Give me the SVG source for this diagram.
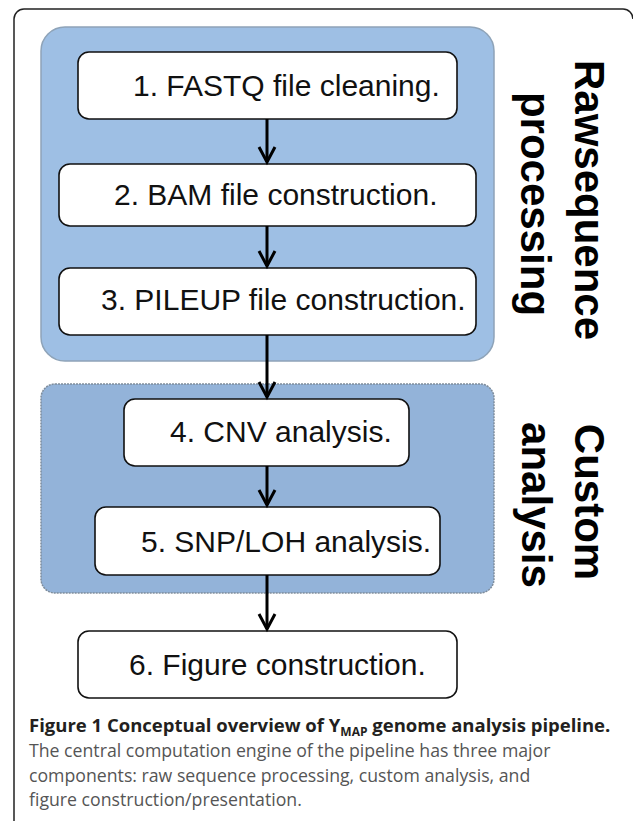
<svg xmlns="http://www.w3.org/2000/svg" width="633" height="821" viewBox="0 0 633 821">
<style>
.node rect{fill:#fff;stroke:#111;stroke-width:1.6}
.lbl{font-family:"Liberation Sans",Arial,sans-serif;font-size:30px;fill:#111}
.side{font-family:"Liberation Sans",Arial,sans-serif;font-size:42px;font-weight:bold;fill:#000;text-anchor:middle}
.conn line{stroke:#000;stroke-width:3}
.conn path{fill:none;stroke:#000;stroke-width:3;stroke-linejoin:miter}
.cap{font-family:"Open Sans","Noto Sans",sans-serif;font-size:17.7px;fill:#555}
.ttl{font-family:"Open Sans","Noto Sans",sans-serif;font-size:18.5px;font-weight:bold;fill:#231f20}
</style>
<rect width="633" height="821" fill="#fff"/>
<path d="M14,821 V19 A10,10 0 0 1 24,9 H623 A10,10 0 0 1 633,19" fill="none" stroke="#222" stroke-width="1.5"/>
<g id="group-raw">
<rect x="41" y="27" width="453" height="334" rx="24" fill="#9ebfe4" stroke="#8ea3b8" stroke-width="1.5"/>
<text class="side" transform="translate(575,200) rotate(90)">Rawsequence</text>
<text class="side" transform="translate(521,204) rotate(90)">processing</text>
</g>
<g id="group-custom">
<rect x="41" y="384" width="453" height="209" rx="14" fill="#93b3d9" stroke="#7f8d9c" stroke-width="1.5" stroke-dasharray="2,1"/>
<text class="side" transform="translate(575,502) rotate(90)">Custom</text>
<text class="side" transform="translate(522,505) rotate(90)">analysis</text>
</g>
<g id="node1" class="node"><rect x="78" y="52" width="379" height="67" rx="11"/><text class="lbl" x="133" y="96">1. FASTQ file cleaning.</text></g>
<g id="node2" class="node"><rect x="59" y="164" width="417" height="62" rx="11"/><text class="lbl" x="114" y="205">2. BAM file construction.</text></g>
<g id="node3" class="node"><rect x="59" y="268" width="417" height="67" rx="11"/><text class="lbl" x="101" y="310">3. PILEUP file construction.</text></g>
<g id="node4" class="node"><rect x="124" y="399" width="285" height="67" rx="11"/><text class="lbl" x="170" y="442">4. CNV analysis.</text></g>
<g id="node5" class="node"><rect x="95" y="507" width="345" height="68" rx="11"/><text class="lbl" x="141" y="552">5. SNP/LOH analysis.</text></g>
<g id="node6" class="node"><rect x="78" y="631" width="379" height="67" rx="11"/><text class="lbl" x="129" y="675">6. Figure construction.</text></g>
<g id="connectors" class="conn">
<line x1="267" y1="119" x2="267" y2="162"/><path d="M259,147 L267,162 L275,147"/>
<line x1="267" y1="226" x2="267" y2="266"/><path d="M259,251 L267,266 L275,251"/>
<line x1="267" y1="335" x2="267" y2="397"/><path d="M259,382 L267,397 L275,382"/>
<line x1="267" y1="466" x2="267" y2="505"/><path d="M259,490 L267,505 L275,490"/>
<line x1="267" y1="575" x2="267" y2="629"/><path d="M259,614 L267,629 L275,614"/>
</g>
<g id="caption">
<text class="ttl" x="29" y="732">Figure 1 Conceptual overview of Y<tspan font-size="12" dy="4">MAP</tspan><tspan dy="-4"> genome analysis pipeline.</tspan></text>
<text class="cap" x="29" y="757">The central computation engine of the pipeline has three major</text>
<text class="cap" x="29" y="782">components: raw sequence processing, custom analysis, and</text>
<text class="cap" x="29" y="806">figure construction/presentation.</text>
</g>
</svg>
